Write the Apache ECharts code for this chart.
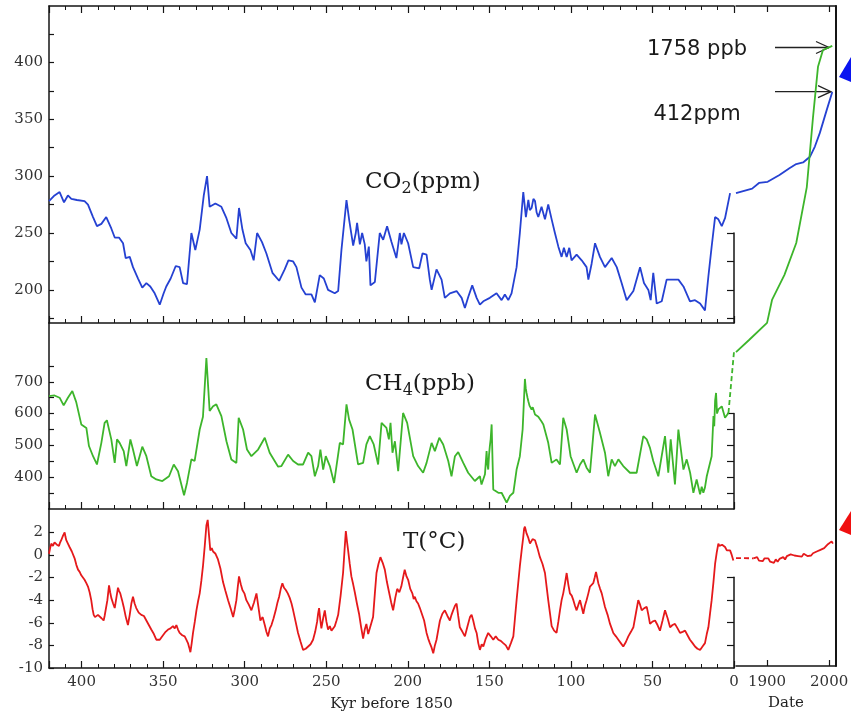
<!DOCTYPE html>
<html>
<head>
<meta charset="utf-8">
<script src="https://cdn.jsdelivr.net/npm/echarts@6/dist/echarts.min.js"></script>
<style>
html, body { margin: 0; padding: 0; background: #fff; }
#main { width: 851px; height: 714px; }
</style>
</head>
<body>
<div id="main"></div>
<script>
// ice core record, [kyr before 1850, value]
var co2Past = [[420,278],[416.6,283],[413.5,286],[410.8,277],[408.4,283],[406.3,280],[402.9,279],[398.2,278],[396.1,275],[393,264],[390.6,256],[387.9,258],[384.9,264],[381.8,254],[379.7,246],[377.1,246],[374.6,241],[373,228],[370.5,229],[368.5,220],[365.4,210],[362.8,202],[360.3,206],[357.9,203],[355.2,197],[352.1,187],[349.7,197],[348.1,203],[345.4,210],[342.3,221],[339.9,220],[337.8,206],[335.4,205],[332.7,250],[330.3,235],[327.6,253],[325.1,283],[323.1,300],[321.5,273],[318,276],[314.3,273],[311.2,263],[308.2,250],[305.1,245],[303.5,272],[301.4,253],[299.4,241],[296.5,235],[294.5,226],[292.4,250],[289.4,242],[286.7,232],[283,215],[278.9,208],[275.5,218],[273.2,226],[270.3,225],[268.3,220],[265.2,202],[262.6,196],[259.1,196],[257,189],[254,213],[251.5,210],[248.9,200],[244.8,197],[242.7,199],[240.7,235],[237.6,279],[236,262],[233.5,239],[231.9,250],[231.1,259],[229.4,240],[228,250],[226.4,240],[225.4,225],[223.9,238],[222.9,204],[220.2,207],[217.2,250],[215.1,244],[212.7,256],[210,242],[207,228],[204.9,250],[203.9,240],[202.4,250],[199.8,241],[196.7,220],[193,219],[191,232],[188.5,231],[186.5,209],[185.4,200],[182.4,218],[179.3,209],[177.3,193],[174.2,197],[170.1,199],[167,193],[165,184],[162.9,194],[160.5,204],[157.8,193],[155.8,187],[153.7,190],[149.7,193],[145.6,197],[142.5,191],[140.5,196],[138.4,191],[136.4,197],[133.3,220],[131.3,250],[129.2,286],[127.6,264],[126.1,279],[125.2,270],[124.1,272],[123,280],[122,278],[121,268],[120,264],[118,273],[115.9,262],[113.9,275],[111.8,262],[109.8,250],[107.7,238],[105.7,229],[104.3,237],[102.6,229],[101,237],[99.6,226],[96.5,231],[93.4,226],[90.4,220],[89.3,209],[87.3,223],[85.2,241],[82.2,229],[79.1,220],[75,228],[71.9,220],[68.9,206],[65.8,191],[61.7,199],[57.6,220],[55.2,206],[52.5,200],[51.1,191],[49.5,215],[47.4,188],[44.3,190],[41.3,209],[37.2,209],[34.1,209],[31,203],[27,190],[23.9,191],[20.8,188],[17.8,182],[15.7,212],[13.7,238],[11.6,264],[9.6,262],[7.5,256],[5.5,263],[2.4,285]];

var ch4Past = [[420,655],[416.6,657],[413.5,650],[411,626],[408.4,650],[405.7,671],[403.3,636],[400.2,566],[397.1,555],[395.5,498],[393,466],[390.6,440],[387.9,508],[385.9,571],[384.5,579],[381.8,519],[379.7,445],[378.3,519],[376.7,508],[374.2,482],[372.6,435],[370.1,519],[368.5,487],[366.1,435],[362.8,496],[360.3,466],[357.3,403],[354.2,393],[350.5,388],[346.4,403],[343.5,440],[340.9,419],[337.2,343],[335.4,382],[332.7,456],[330.7,451],[327.6,550],[325.6,590],[323.5,775],[321.5,608],[319.4,623],[317.4,629],[314.3,592],[311.2,513],[308.2,456],[305.1,445],[303.7,587],[301,550],[298.6,487],[295.9,466],[291.8,487],[287.7,524],[284.7,477],[279.5,433],[277.5,435],[273.4,471],[270.3,451],[267.3,440],[264.2,440],[261.1,477],[259.1,466],[257,403],[255,435],[253.6,487],[251.9,424],[250.3,466],[247.8,435],[245.2,382],[241.7,508],[239.7,503],[237.6,629],[236,581],[233.9,550],[230.5,440],[227.4,445],[225.4,503],[223.3,529],[220.9,503],[218.2,440],[216.1,571],[213.1,555],[211.6,519],[210.6,571],[209.4,477],[207.9,513],[205.9,419],[202.9,602],[200.4,571],[196.7,466],[193.7,435],[190.6,414],[188.5,445],[185.4,508],[183.4,482],[180.7,524],[178.3,503],[175.2,451],[173.2,403],[171.1,466],[169.1,479],[166,445],[163,414],[158.9,388],[155.8,403],[154.8,377],[152.7,409],[151.7,482],[151.2,440],[150.7,424],[150.2,470],[149.7,498],[149.2,520],[148.6,566],[147.6,361],[144.5,351],[142.5,351],[139.4,320],[137.4,341],[135.3,351],[133.3,424],[131.3,466],[129.6,550],[128.2,709],[127.7,680],[127.2,665],[126.6,650],[126.1,639],[125.4,625],[124.1,613],[123.4,620],[122,597],[121.2,603],[120,590],[119,587],[118,575],[116.9,566],[113.9,508],[111.8,445],[108.8,456],[106.7,440],[104.7,587],[102.6,550],[100.2,466],[96.5,414],[94.4,440],[92.4,456],[90.4,430],[88.3,414],[85.2,597],[82.2,540],[79.1,477],[77.1,403],[75,456],[73,435],[70.9,456],[67.9,435],[63.8,414],[59.7,414],[55.6,529],[53.5,519],[51.5,492],[49.5,451],[46.4,403],[42.3,529],[40.3,414],[38.8,519],[36.2,377],[34.1,550],[31,424],[29,456],[26.9,414],[24.9,351],[22.9,393],[20.8,346],[19.8,370],[18.8,351],[17.8,368],[16.7,403],[13.7,466],[12.6,592],[12.1,560],[11.6,640],[11,665],[10.4,600],[9.6,613],[7.5,623],[5.5,587],[3.4,602]];
var ch4Link = [[3.4,602],[0,795]];

var tPast = [[420,0.1],[419.3,0.6],[418.6,1.0],[417.6,0.8],[416.6,1.1],[415.2,0.9],[413.9,0.8],[413.2,1.1],[412.5,1.3],[411.4,1.7],[410.4,2.0],[409.9,1.6],[409.4,1.3],[408.4,1.0],[407.4,0.7],[406,0.3],[404.3,-0.3],[403.2,-0.9],[402.2,-1.3],[401.2,-1.5],[400.2,-1.8],[399.2,-1.9],[398.2,-2.2],[397.1,-2.5],[396.1,-2.8],[395.1,-3.3],[394.1,-4.0],[393.3,-4.8],[392.6,-5.3],[391.8,-5.5],[391,-5.5],[390,-5.3],[389,-5.3],[387.8,-5.6],[386.5,-5.8],[385.9,-5.4],[385.3,-5.3],[384.2,-4.0],[383.2,-2.7],[382.5,-3.3],[381.8,-3.8],[380.7,-4.3],[379.7,-4.7],[378.7,-3.8],[377.7,-2.9],[377,-3.2],[376.3,-3.4],[375.2,-4.0],[374.2,-4.6],[372.9,-5.5],[371.6,-6.2],[370.5,-5.3],[369.5,-4.3],[368.5,-3.7],[367.5,-4.3],[366.5,-4.7],[365,-5.1],[363.4,-5.3],[361.8,-5.4],[360.3,-5.8],[358.8,-6.2],[357.3,-6.6],[355.7,-7.0],[354.2,-7.5],[353.1,-7.6],[352.1,-7.5],[351.1,-7.3],[350.1,-7.1],[348.5,-6.8],[347,-6.6],[345.5,-6.5],[344,-6.3],[342.9,-6.5],[341.9,-6.2],[340.9,-6.6],[339.9,-6.9],[338.3,-7.1],[336.8,-7.2],[335.8,-7.5],[334.8,-7.8],[334,-8.2],[333.3,-8.6],[332.5,-7.8],[331.7,-6.9],[330.6,-5.9],[329.6,-4.9],[328.6,-4.1],[327.6,-3.4],[326.6,-2.3],[325.6,-1.0],[324.5,0.8],[323.5,2.6],[322.7,3.1],[321.9,3.0],[321.1,0.4],[320.2,0.6],[319.4,0.3],[317.9,0.1],[316.4,-0.4],[314.9,-1.2],[313.3,-2.4],[311.8,-3.2],[310.2,-4.0],[308.7,-4.7],[307.1,-5.5],[306.1,-4.8],[305.1,-4.0],[304.3,-2.9],[303.5,-1.9],[302.4,-2.6],[301.4,-3.1],[300.2,-3.4],[299,-4.0],[297.5,-4.4],[295.9,-4.9],[294.3,-4.2],[292.8,-3.4],[291.6,-4.6],[290.4,-5.8],[289,-5.5],[287.7,-6.2],[286.7,-6.8],[285.7,-7.2],[284.6,-6.5],[283.6,-6.2],[282.3,-5.6],[281,-4.9],[279.9,-4.2],[278.9,-3.7],[277.9,-3.0],[276.9,-2.5],[275.9,-2.9],[274.8,-3.1],[273.6,-3.4],[272.4,-3.8],[271.3,-4.3],[270.3,-4.9],[268.8,-5.9],[267.3,-6.9],[265.7,-7.7],[264.2,-8.4],[262.6,-8.3],[261.1,-8.1],[259.6,-7.9],[258.1,-7.5],[256.8,-6.8],[255.6,-5.9],[255,-5.2],[254.4,-4.7],[253.7,-5.7],[253,-6.5],[251.9,-5.6],[250.9,-4.9],[249.9,-5.9],[248.9,-6.6],[247.8,-6.3],[246.8,-6.7],[245.8,-6.5],[244.8,-6.3],[243.7,-5.8],[242.7,-5.3],[241.2,-3.6],[239.7,-1.6],[238.8,0.4],[238,2.1],[237.3,1.2],[236.6,0.4],[235.6,-0.8],[234.6,-1.9],[233.5,-2.6],[232.5,-3.3],[231.2,-4.3],[229.9,-5.2],[228.6,-6.4],[227.4,-7.4],[226.4,-6.6],[225.4,-6.1],[224.3,-7.0],[223.3,-6.9],[222.3,-6.0],[221.3,-5.5],[220.2,-3.4],[219.2,-1.6],[218,-0.8],[216.8,-0.2],[215.4,-0.7],[214.1,-1.3],[212.8,-2.4],[211.5,-3.3],[210.2,-4.2],[209,-4.9],[207.7,-3.8],[206.5,-3.0],[205.2,-3.3],[204,-2.8],[202.9,-2.0],[201.9,-1.3],[200.8,-1.9],[199.8,-2.2],[198.5,-3.0],[197.2,-3.4],[196.4,-3.9],[195.7,-3.7],[194.7,-4.1],[193.7,-4.3],[192.6,-4.7],[191.6,-4.6],[190,-5.8],[188.5,-6.9],[187.5,-7.4],[186.5,-7.8],[185.4,-8.2],[184.4,-8.7],[183.4,-8.0],[182.4,-7.5],[181.3,-6.6],[180.3,-5.8],[178.8,-5.2],[177.3,-4.9],[175.7,-5.4],[174.2,-5.8],[173.2,-5.3],[172.2,-4.9],[171.1,-4.5],[170.1,-4.3],[169.1,-5.4],[168.1,-6.4],[166.5,-6.8],[165,-7.2],[163.4,-6.3],[161.9,-5.5],[160.9,-5.3],[159.9,-5.8],[158.8,-6.5],[157.8,-6.9],[156.8,-7.8],[155.8,-8.4],[154.7,-7.9],[153.7,-8.1],[152.2,-7.4],[150.7,-6.9],[149.1,-7.2],[147.6,-7.5],[146.1,-7.2],[144.5,-7.5],[143,-7.6],[141.5,-7.8],[139.9,-8.0],[138.4,-8.4],[136.8,-7.8],[135.3,-7.2],[134.3,-5.6],[133.3,-4.0],[132.3,-2.5],[131.3,-1.0],[130.2,0.4],[129.2,1.6],[128.7,2.3],[128.2,2.5],[127.2,1.9],[126.1,1.5],[125.1,1.0],[123.5,1.4],[122,1.3],[120.5,0.6],[119,-0.2],[117.4,-0.8],[115.9,-1.6],[114.9,-2.8],[113.9,-4.0],[112.8,-5.2],[111.8,-6.3],[110.3,-6.7],[108.8,-6.9],[107.7,-5.9],[106.7,-4.9],[105.7,-4.0],[104.7,-3.4],[103.6,-2.5],[102.6,-1.6],[101.6,-2.6],[100.6,-3.4],[99.5,-3.6],[98.5,-4.0],[97.5,-4.5],[96.5,-4.9],[95.4,-4.4],[94.4,-4.0],[93.4,-4.6],[92.4,-5.2],[91.4,-4.5],[90.4,-4.0],[89.3,-3.4],[88.3,-2.8],[87.3,-2.7],[86.3,-2.5],[85.4,-2.0],[84.6,-1.5],[83.9,-2.0],[83.2,-2.5],[82.1,-3.0],[81.1,-3.4],[80.1,-4.0],[79.1,-4.6],[77.5,-5.3],[76,-6.1],[75,-6.5],[74,-6.9],[72.4,-7.2],[70.9,-7.5],[69.4,-7.8],[67.9,-8.1],[66.3,-7.7],[64.8,-7.2],[63.2,-6.8],[61.7,-6.4],[60.2,-5.2],[58.7,-4.0],[57.6,-4.4],[56.6,-4.9],[55,-4.7],[53.5,-4.6],[52.5,-5.3],[51.5,-6.1],[50,-5.9],[48.4,-5.8],[46.9,-6.2],[45.4,-6.7],[43.8,-5.8],[42.3,-4.9],[40.7,-5.6],[39.2,-6.4],[37.7,-6.2],[36.2,-6.1],[34.6,-6.5],[33.1,-6.9],[31.5,-6.8],[30,-6.7],[28.5,-7.1],[27,-7.5],[25.4,-7.8],[23.9,-8.1],[22.4,-8.3],[20.8,-8.4],[19.3,-8.1],[17.8,-7.8],[16.7,-7.0],[15.7,-6.4],[14.7,-5.2],[13.7,-4.0],[12.6,-2.4],[11.6,-0.8],[10.6,0.2],[9.6,1.0],[8.9,0.8],[8.1,0.7],[7.3,0.9],[6.5,1.0],[5.5,0.7],[4.4,0.4],[3.4,0.5],[2.4,0.4],[1.4,0.0],[0.4,-0.5]];

// instrumental era, [year, value]
var co2Recent = [[1850,285],[1876,289],[1887,294],[1901,295],[1920,301],[1936,307],[1947,310.6],[1958,312],[1969,317],[1977,326],[1985,338],[1996,358],[2005,374]];
var ch4Recent = [[1850,795],[1871,833],[1900,887],[1908,959],[1928,1038],[1947,1138],[1964,1314],[1974,1534],[1982,1692],[1990,1745],[2005,1758]];
var tLink = [[1850,-0.28],[1878,-0.3]];
var tRecent = [[1878,-0.3],[1881,-0.4],[1884,-0.2],[1887,-0.5],[1890,-0.35],[1893,-0.55],[1896,-0.3],[1899,-0.45],[1902,-0.3],[1905,-0.6],[1908,-0.5],[1911,-0.7],[1914,-0.4],[1917,-0.6],[1920,-0.35],[1923,-0.45],[1926,-0.2],[1929,-0.4],[1932,-0.1],[1935,-0.25],[1938,0.05],[1941,0.2],[1944,-0.05],[1947,0.1],[1950,-0.1],[1953,0.05],[1956,-0.15],[1959,0.1],[1962,0.0],[1965,-0.1],[1968,0.05],[1971,-0.05],[1974,0.15],[1977,0.05],[1980,0.3],[1983,0.2],[1986,0.45],[1989,0.35],[1992,0.6],[1995,0.5],[1998,0.95],[2001,0.8],[2004,1.2],[2006,1.0]];

var co2Ticks = [175, 200, 225, 250, 275, 300, 325, 350, 375, 400, 425];
var co2Labels = [200, 250, 300, 350, 400];
var ch4Ticks = [350, 400, 450, 500, 550, 600, 650, 700, 750];
var ch4Labels = [400, 500, 600, 700];
var tTicks = [-10, -8, -6, -4, -2, 0, 2];
var yearTicks = [1900, 2000];

var BLUE = '#2541d2', GREEN = '#3db52b', RED = '#e5191b', INK = '#151515';
var serif = 'DejaVu Serif';
var labelStyle = { fontFamily: serif, fontSize: 15, color: '#333' };

function lineStyle() { return { color: INK, width: 1.5 }; }

// kyr axis (reversed), ticks every 50 with minor every 10
function kyrAxis(grid, pos, labels) {
  return {
    type: 'value', gridIndex: grid, position: pos, min: 0, max: 420, interval: 50, inverse: true,
    axisLine: { show: true, onZero: false, lineStyle: lineStyle() },
    axisTick: { show: true, inside: true, length: 7, lineStyle: { color: INK, width: 1.2 } },
    minorTick: { show: true, splitNumber: 5, length: 4, lineStyle: { color: INK, width: 1 } },
    splitLine: { show: false }, minorSplitLine: { show: false },
    axisLabel: Object.assign({ show: labels, margin: 7, formatter: function(v) { return v % 50 === 0 ? v : ''; } }, labelStyle)
  };
}

function leftY(grid, min, max, ticks, labels) {
  return {
    type: 'value', gridIndex: grid, min: min, max: max,
    axisLine: { show: true, onZero: false, lineStyle: lineStyle() },
    axisTick: { show: true, inside: true, length: 5, customValues: ticks, lineStyle: { color: INK, width: 1.2 } },
    splitLine: { show: false },
    axisLabel: Object.assign({ show: true, margin: 6, customValues: labels }, labelStyle)
  };
}

// short right hand frame piece at the end of each ice core panel
function capY(grid, min, max, ticks) {
  return {
    type: 'value', gridIndex: grid, position: 'right', min: min, max: max,
    axisLine: { show: true, onZero: false, lineStyle: lineStyle() },
    axisTick: { show: true, inside: true, length: 7, customValues: ticks, lineStyle: { color: INK, width: 1.2 } },
    splitLine: { show: false }, axisLabel: { show: false }
  };
}

function hiddenX(grid) {
  return { type: 'value', gridIndex: grid, show: false, min: 0, max: 1 };
}

function hiddenY(grid, min, max) {
  return { type: 'value', gridIndex: grid, show: false, min: min, max: max };
}

function line(name, data, xi, yi, color, dashed) {
  return {
    name: name, type: 'line', data: data, xAxisIndex: xi, yAxisIndex: yi,
    showSymbol: false, symbol: 'none', clip: false, animation: false,
    lineStyle: { color: color, width: 1.8, type: dashed ? [5, 3] : 'solid' }
  };
}

var grids = [
  { left: 49, width: 685, top: 6, height: 317 },      // CO2
  { left: 49, width: 685, top: 323, height: 186 },    // CH4
  { left: 49, width: 685, top: 509, height: 159 },    // T
  { left: 736, width: 100, top: 6, height: 660 },     // recent years
  { left: 700, width: 34, top: 233, height: 90 },
  { left: 700, width: 34, top: 413.6, height: 95.4 },
  { left: 700, width: 34, top: 577.3, height: 90.7 }
];
grids.forEach(function(g) { g.containLabel = false; g.outerBoundsMode = 'none'; });

var xAxes = [
  kyrAxis(0, 'bottom', false),
  kyrAxis(0, 'top', false),
  kyrAxis(1, 'bottom', false),
  kyrAxis(2, 'bottom', true),
  {
    type: 'value', gridIndex: 3, position: 'bottom', min: 1850, max: 2011,
    axisLine: { show: true, onZero: false, lineStyle: lineStyle() },
    axisTick: { show: true, inside: true, length: 6, customValues: yearTicks, lineStyle: { color: INK, width: 1.2 } },
    splitLine: { show: false },
    axisLabel: Object.assign({ show: true, margin: 9, customValues: yearTicks, formatter: function(v) { return String(v); } }, labelStyle),
    name: 'Date', nameLocation: 'middle', nameGap: 30,
    nameTextStyle: { fontFamily: serif, fontSize: 15, color: '#222' }
  },
  {
    type: 'value', gridIndex: 3, position: 'top', min: 1850, max: 2011,
    axisLine: { show: true, onZero: false, lineStyle: lineStyle() },
    axisTick: { show: true, inside: true, length: 6, customValues: yearTicks, lineStyle: { color: INK, width: 1.2 } },
    splitLine: { show: false }, axisLabel: { show: false }
  },
  hiddenX(4), hiddenX(5), hiddenX(6)
];
xAxes[3].name = 'Kyr before 1850';
xAxes[3].nameLocation = 'middle';
xAxes[3].nameGap = 29;
xAxes[3].nameTextStyle = { fontFamily: serif, fontSize: 15, color: '#222' };

var yAxes = [
  leftY(0, 170.9, 449.5, co2Ticks, co2Labels),
  leftY(1, 300, 884.9, ch4Ticks, ch4Labels),
  leftY(2, -10, 4.06, tTicks, tTicks),
  hiddenY(3, -130.5, 449.5),
  hiddenY(3, -192.1, 1883.3),
  {
    type: 'value', gridIndex: 3, position: 'right', min: -9.83, max: 48.58,
    axisLine: { show: true, onZero: false, lineStyle: { color: INK, width: 2 } },
    axisTick: { show: false }, axisLabel: { show: false }, splitLine: { show: false }
  },
  capY(4, 170.9, 250, [175, 200, 225, 250]),
  capY(5, 300, 600, [350, 400, 450, 500, 550, 600]),
  capY(6, -10, -2, [-8, -6, -4, -2])
];

function arrow(x1, x2, y) {
  return [
    { type: 'line', shape: { x1: x1, y1: y, x2: x2, y2: y }, style: { stroke: '#222', lineWidth: 1.3 } },
    { type: 'polyline', shape: { points: [[x2 - 13, y - 6], [x2, y], [x2 - 13, y + 6]] }, style: { stroke: '#222', lineWidth: 1.3, fill: null } }
  ];
}

function label(text, x, y, font, align) {
  return {
    type: 'text', x: x, y: y,
    style: { text: text, font: font, fill: '#1a1a1a', align: align || 'left', verticalAlign: 'middle', textAlign: align || 'left', textVerticalAlign: 'middle' }
  };
}

// panel title with a lowered subscript
function title(main, sub, rest, x, y) {
  return {
    type: 'text', x: x, y: y,
    style: {
      text: '{a|' + main + '}' + (sub ? '{s|' + sub + '}' : '') + '{a|' + rest + '}',
      align: 'left', verticalAlign: 'middle', textAlign: 'left', textVerticalAlign: 'middle',
      rich: {
        a: { fontFamily: serif, fontSize: 23, lineHeight: 30, color: '#1a1a1a', fill: '#1a1a1a' },
        s: { fontFamily: serif, fontSize: 16, lineHeight: 30, verticalAlign: 'bottom', color: '#1a1a1a', fill: '#1a1a1a' }
      }
    }
  };
}

var graphics = [
  title('CO', '2', '(ppm)', 365, 182),
  title('CH', '4', '(ppb)', 365, 384),
  title('T', '', '(\u00B0C)', 403, 542),
  label('1758 ppb', 697, 50, '21px "DejaVu Sans"', 'center'),
  label('412ppm', 697, 115, '21px "DejaVu Sans"', 'center'),
  { type: 'polygon', shape: { points: [[839, 77], [851, 57], [851, 82]] }, style: { fill: '#0a14f0' } },
  { type: 'polygon', shape: { points: [[839, 530], [851, 511], [851, 535]] }, style: { fill: '#f01010' } }
].concat(arrow(775, 829, 47.5), arrow(775, 831, 91.7));

var option = {
  backgroundColor: '#fff',
  animation: false,
  grid: grids,
  xAxis: xAxes,
  yAxis: yAxes,
  graphic: graphics,
  series: [
    line('CO2', co2Past, 0, 0, BLUE),
    line('CH4', ch4Past, 2, 1, GREEN),
    line('CH4 gap', ch4Link, 2, 1, GREEN, true),
    line('T', tPast, 3, 2, RED),
    line('CO2 recent', co2Recent, 4, 3, BLUE),
    line('CH4 recent', ch4Recent, 4, 4, GREEN),
    line('T gap', tLink, 4, 5, RED, true),
    line('T recent', tRecent, 4, 5, RED)
  ]
};

var myChart = echarts.init(document.getElementById('main'));
myChart.setOption(option);
</script>
</body>
</html>
